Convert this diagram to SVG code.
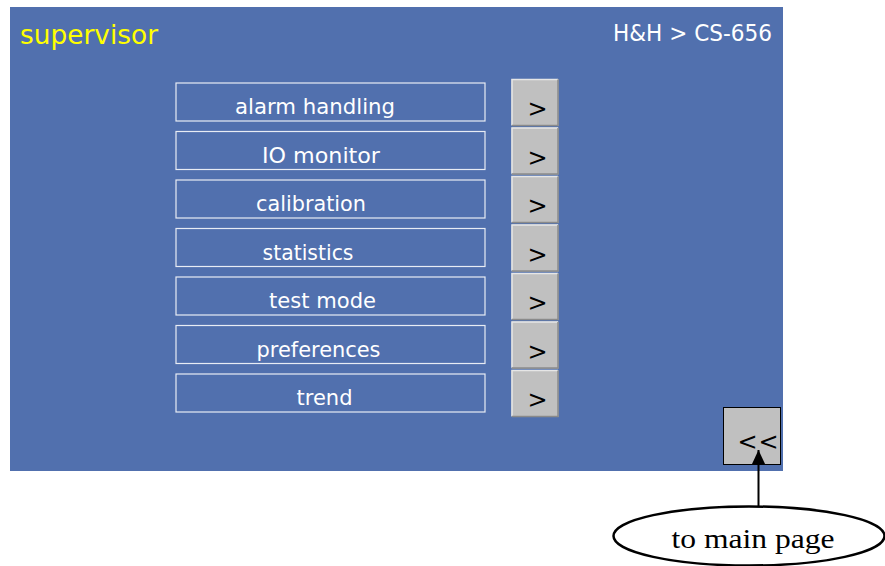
<svg xmlns="http://www.w3.org/2000/svg" width="885" height="566" viewBox="0 0 885 566">
<style>
.lbl rect{fill:none;stroke:#e8ecf4;stroke-width:1.2}
.lbl text{fill:#ffffff;font-family:"DejaVu Sans",Verdana,sans-serif;font-size:22px;text-anchor:middle}
.btn .face{fill:#c0c0c0}
.btn .hi{fill:none;stroke:#e6e6e6;stroke-width:1.5}
.btn .lo{fill:none;stroke:#8a8a8a;stroke-width:1.5}
.btn text{fill:#000;font-family:"DejaVu Sans",Verdana,sans-serif;font-size:24px;text-anchor:middle}
</style>
<defs>
<marker id="ah" markerWidth="15" markerHeight="14" refX="15" refY="7" orient="auto" markerUnits="userSpaceOnUse" viewBox="0 0 15 14">
<path d="M0,0 L15,7 L0,14 Z" fill="#000"/>
</marker>
</defs>
<rect width="885" height="566" fill="#ffffff"/>
<g id="panel">
<rect x="10" y="7" width="773" height="464" fill="#5170ae"/>
<text x="20" y="44" font-family="'DejaVu Sans',Verdana,sans-serif" font-size="26" fill="#ffff00" textLength="138" lengthAdjust="spacingAndGlyphs">supervisor</text>
<text x="613" y="41" font-family="'DejaVu Sans',Verdana,sans-serif" font-size="23" fill="#ffffff" textLength="159" lengthAdjust="spacingAndGlyphs">H&amp;H &gt; CS-656</text>
</g>
<g id="item-alarm" class="lbl"><rect x="176" y="83" width="309" height="38"/><text x="315" y="114" textLength="160" lengthAdjust="spacingAndGlyphs">alarm handling</text></g>
<g id="item-io" class="lbl"><rect x="176" y="131.5" width="309" height="38"/><text x="321" y="162.5" textLength="118" lengthAdjust="spacingAndGlyphs">IO monitor</text></g>
<g id="item-calibration" class="lbl"><rect x="176" y="180" width="309" height="38"/><text x="311" y="211" textLength="110" lengthAdjust="spacingAndGlyphs">calibration</text></g>
<g id="item-statistics" class="lbl"><rect x="176" y="228.5" width="309" height="38"/><text x="308" y="259.5" textLength="91" lengthAdjust="spacingAndGlyphs">statistics</text></g>
<g id="item-test" class="lbl"><rect x="176" y="277" width="309" height="38"/><text x="322.5" y="308" textLength="107" lengthAdjust="spacingAndGlyphs">test mode</text></g>
<g id="item-preferences" class="lbl"><rect x="176" y="325.5" width="309" height="38"/><text x="318.5" y="356.5" textLength="124" lengthAdjust="spacingAndGlyphs">preferences</text></g>
<g id="item-trend" class="lbl"><rect x="176" y="374" width="309" height="38"/><text x="324.5" y="405" textLength="56" lengthAdjust="spacingAndGlyphs">trend</text></g>
<g id="btn-1" class="btn"><rect class="face" x="511.5" y="79" width="47" height="47"/><path class="hi" d="M512,125 V79.5 H558"/><path class="lo" d="M512,125.5 H558 V79.5"/><text x="537.5" y="117">&gt;</text></g>
<g id="btn-2" class="btn"><rect class="face" x="511.5" y="127.5" width="47" height="47"/><path class="hi" d="M512,173.5 V128 H558"/><path class="lo" d="M512,174 H558 V128"/><text x="537.5" y="165.5">&gt;</text></g>
<g id="btn-3" class="btn"><rect class="face" x="511.5" y="176" width="47" height="47"/><path class="hi" d="M512,222 V176.5 H558"/><path class="lo" d="M512,222.5 H558 V176.5"/><text x="537.5" y="214">&gt;</text></g>
<g id="btn-4" class="btn"><rect class="face" x="511.5" y="224.5" width="47" height="47"/><path class="hi" d="M512,270.5 V225 H558"/><path class="lo" d="M512,271 H558 V225"/><text x="537.5" y="262.5">&gt;</text></g>
<g id="btn-5" class="btn"><rect class="face" x="511.5" y="273" width="47" height="47"/><path class="hi" d="M512,319 V273.5 H558"/><path class="lo" d="M512,319.5 H558 V273.5"/><text x="537.5" y="311">&gt;</text></g>
<g id="btn-6" class="btn"><rect class="face" x="511.5" y="321.5" width="47" height="47"/><path class="hi" d="M512,367.5 V322 H558"/><path class="lo" d="M512,368 H558 V322"/><text x="537.5" y="359.5">&gt;</text></g>
<g id="btn-7" class="btn"><rect class="face" x="511.5" y="370" width="47" height="47"/><path class="hi" d="M512,416 V370.5 H558"/><path class="lo" d="M512,416.5 H558 V370.5"/><text x="537.5" y="408">&gt;</text></g>
<g id="btn-back">
<rect x="723.5" y="407.5" width="57" height="57" fill="#c0c0c0" stroke="#000" stroke-width="1"/>
<text x="737.5" y="450" font-family="'DejaVu Sans',Verdana,sans-serif" font-size="24" fill="#000" textLength="41" lengthAdjust="spacing">&lt;&lt;</text>
</g>
<g id="callout">
<ellipse cx="749" cy="536" rx="135.5" ry="29.5" fill="#ffffff" stroke="#000" stroke-width="2.5"/>
<text x="753" y="548" font-family="'Liberation Serif','Times New Roman',serif" font-size="28" fill="#000" text-anchor="middle" textLength="163" lengthAdjust="spacingAndGlyphs">to main page</text>
</g>
<g id="connectors">
<line x1="758.5" y1="506" x2="758.5" y2="450" stroke="#000" stroke-width="2" marker-end="url(#ah)"/>
</g>
</svg>
